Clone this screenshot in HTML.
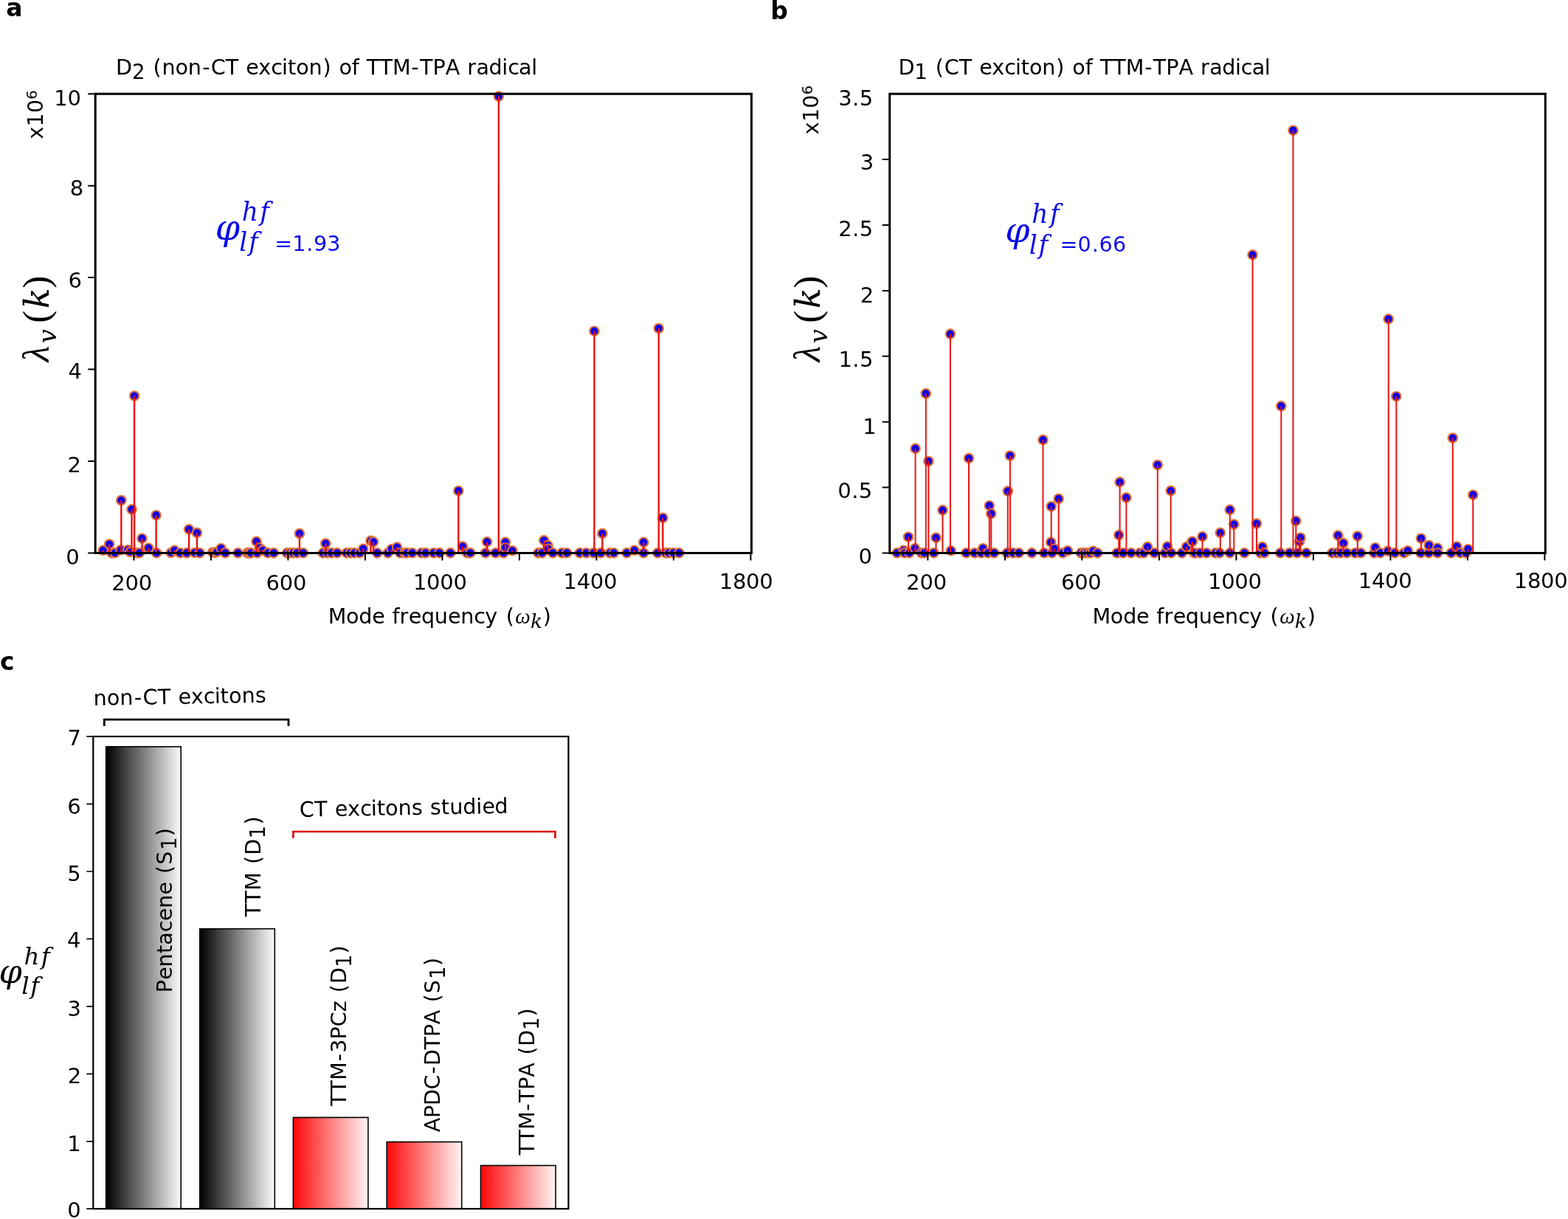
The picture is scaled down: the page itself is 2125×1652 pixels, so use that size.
<!DOCTYPE html>
<html lang="en">
<head>
<meta charset="utf-8">
<title>Figure: vibrational mode reorganisation energies</title>
<style>
html,body{margin:0;padding:0;background:#fff;}
body{width:2125px;height:1652px;overflow:hidden;}
svg{display:block;}
</style>
</head>
<body>
<svg width="2125" height="1652" viewBox="0 0 2125 1652">
<defs>
<clipPath id="ca"><rect x="129" y="110" width="889.5" height="660"/></clipPath>
<clipPath id="cb"><rect x="1205.5" y="110" width="889" height="660"/></clipPath>
<linearGradient id="gk" x1="0" y1="0" x2="1" y2="0"><stop offset="0" stop-color="#000"/><stop offset="1" stop-color="#fbfbfb"/></linearGradient>
<linearGradient id="gr" x1="0" y1="0" x2="1" y2="0"><stop offset="0" stop-color="#ff0808"/><stop offset="1" stop-color="#fff4f4"/></linearGradient>
</defs>
<rect width="2125" height="1652" fill="#fff"/>
<g font-family="'DejaVu Sans','Liberation Sans',sans-serif" font-weight="bold" font-size="33" fill="#000">
<text x="8.15" y="21.56">a</text>
<text x="1044.19" y="25.9">b</text>
<text x="0.11" y="907.76">c</text>
</g>
<!-- panel a -->
<g clip-path="url(#ca)">
<g fill="#0c00ee" stroke="#e2743c" stroke-width="2.2">
<circle cx="139.7" cy="745.8" r="6.2"/>
<circle cx="148.2" cy="737.5" r="6.2"/>
<circle cx="151.5" cy="749.4" r="6.2"/>
<circle cx="155.7" cy="749.4" r="6.2"/>
<circle cx="163.5" cy="745.3" r="6.2"/>
<circle cx="164.3" cy="678" r="6.2"/>
<circle cx="173.3" cy="745.3" r="6.2"/>
<circle cx="176.4" cy="748" r="6.2"/>
<circle cx="178.5" cy="690.4" r="6.2"/>
<circle cx="182.1" cy="536.5" r="6.2"/>
<circle cx="185" cy="749.4" r="6.2"/>
<circle cx="188.8" cy="749.4" r="6.2"/>
<circle cx="192.5" cy="729.7" r="6.2"/>
<circle cx="201.3" cy="742.7" r="6.2"/>
<circle cx="211.6" cy="698.2" r="6.2"/>
<circle cx="212.1" cy="749.4" r="6.2"/>
<circle cx="231.8" cy="749" r="6.2"/>
<circle cx="236.5" cy="745.8" r="6.2"/>
<circle cx="244.2" cy="749.4" r="6.2"/>
<circle cx="253" cy="749.4" r="6.2"/>
<circle cx="256.1" cy="717.3" r="6.2"/>
<circle cx="263.9" cy="749" r="6.2"/>
<circle cx="267" cy="722" r="6.2"/>
<circle cx="270.6" cy="749.4" r="6.2"/>
<circle cx="288.2" cy="748.5" r="6.2"/>
<circle cx="291" cy="749" r="6.2"/>
<circle cx="294" cy="748" r="6.2"/>
<circle cx="299.6" cy="743.2" r="6.2"/>
<circle cx="305.3" cy="749.4" r="6.2"/>
<circle cx="322.4" cy="749.4" r="6.2"/>
<circle cx="335.2" cy="749.4" r="6.2"/>
<circle cx="336.4" cy="749.4" r="6.2"/>
<circle cx="339.3" cy="749.4" r="6.2"/>
<circle cx="340" cy="749.4" r="6.2"/>
<circle cx="347.6" cy="733.9" r="6.2"/>
<circle cx="348.6" cy="749.4" r="6.2"/>
<circle cx="351.7" cy="742.7" r="6.2"/>
<circle cx="355.9" cy="745.8" r="6.2"/>
<circle cx="363.1" cy="749.4" r="6.2"/>
<circle cx="370.9" cy="749.4" r="6.2"/>
<circle cx="389" cy="749.4" r="6.2"/>
<circle cx="393.2" cy="749.4" r="6.2"/>
<circle cx="397.3" cy="749.4" r="6.2"/>
<circle cx="402.5" cy="749.4" r="6.2"/>
<circle cx="405.9" cy="723" r="6.2"/>
<circle cx="410.8" cy="749.4" r="6.2"/>
<circle cx="437.7" cy="749.4" r="6.2"/>
<circle cx="441.3" cy="736.5" r="6.2"/>
<circle cx="443.9" cy="749.4" r="6.2"/>
<circle cx="449.1" cy="749.4" r="6.2"/>
<circle cx="456.8" cy="749.4" r="6.2"/>
<circle cx="469.8" cy="749.4" r="6.2"/>
<circle cx="474.9" cy="749.4" r="6.2"/>
<circle cx="480.1" cy="749.4" r="6.2"/>
<circle cx="487.4" cy="749.4" r="6.2"/>
<circle cx="492.3" cy="743.7" r="6.2"/>
<circle cx="502.4" cy="732.8" r="6.2"/>
<circle cx="506" cy="734.4" r="6.2"/>
<circle cx="511.2" cy="749.4" r="6.2"/>
<circle cx="525.7" cy="749.4" r="6.2"/>
<circle cx="530.8" cy="744.2" r="6.2"/>
<circle cx="538.1" cy="741.6" r="6.2"/>
<circle cx="542.2" cy="749.4" r="6.2"/>
<circle cx="548.5" cy="749.4" r="6.2"/>
<circle cx="551.4" cy="749.4" r="6.2"/>
<circle cx="558.6" cy="749.4" r="6.2"/>
<circle cx="571.1" cy="749.4" r="6.2"/>
<circle cx="576.8" cy="749.4" r="6.2"/>
<circle cx="587.6" cy="749.4" r="6.2"/>
<circle cx="595.4" cy="749.4" r="6.2"/>
<circle cx="610.4" cy="749.4" r="6.2"/>
<circle cx="621.3" cy="665.2" r="6.2"/>
<circle cx="627" cy="740.6" r="6.2"/>
<circle cx="633.2" cy="749.4" r="6.2"/>
<circle cx="637.3" cy="749.4" r="6.2"/>
<circle cx="658" cy="749.4" r="6.2"/>
<circle cx="660.1" cy="734.4" r="6.2"/>
<circle cx="671.5" cy="749.4" r="6.2"/>
<circle cx="675.8" cy="130.6" r="6.2"/>
<circle cx="682.4" cy="749.4" r="6.2"/>
<circle cx="684.9" cy="734.9" r="6.2"/>
<circle cx="684.9" cy="742.2" r="6.2"/>
<circle cx="694.3" cy="746.3" r="6.2"/>
<circle cx="729.5" cy="749.4" r="6.2"/>
<circle cx="734.6" cy="749.4" r="6.2"/>
<circle cx="737.2" cy="732.3" r="6.2"/>
<circle cx="742.4" cy="739.1" r="6.2"/>
<circle cx="742.9" cy="743.7" r="6.2"/>
<circle cx="749.1" cy="749.4" r="6.2"/>
<circle cx="761.4" cy="749.4" r="6.2"/>
<circle cx="768.1" cy="749.4" r="6.2"/>
<circle cx="785.7" cy="749.4" r="6.2"/>
<circle cx="794.5" cy="749.4" r="6.2"/>
<circle cx="804.4" cy="749.4" r="6.2"/>
<circle cx="805.4" cy="448.7" r="6.2"/>
<circle cx="814.2" cy="749.4" r="6.2"/>
<circle cx="816.3" cy="723" r="6.2"/>
<circle cx="826.6" cy="749.4" r="6.2"/>
<circle cx="831.8" cy="749.4" r="6.2"/>
<circle cx="849.4" cy="749.4" r="6.2"/>
<circle cx="859.7" cy="745.8" r="6.2"/>
<circle cx="872.2" cy="734.9" r="6.2"/>
<circle cx="872.2" cy="749.4" r="6.2"/>
<circle cx="891.3" cy="749.4" r="6.2"/>
<circle cx="892.7" cy="445" r="6.2"/>
<circle cx="898.3" cy="701.8" r="6.2"/>
<circle cx="902.2" cy="749.4" r="6.2"/>
<circle cx="906.3" cy="749.4" r="6.2"/>
<circle cx="912.5" cy="749.4" r="6.2"/>
<circle cx="920.3" cy="749.4" r="6.2"/>
</g>
<path d="M139.7 749.5V745.8M148.2 749.5V737.5M163.5 749.5V745.3M164.3 749.5V678M173.3 749.5V745.3M176.4 749.5V748M178.5 749.5V690.4M182.1 749.5V536.5M192.5 749.5V729.7M201.3 749.5V742.7M211.6 749.5V698.2M236.5 749.5V745.8M256.1 749.5V717.3M267 749.5V722M294 749.5V748M299.6 749.5V743.2M347.6 749.5V733.9M351.7 749.5V742.7M355.9 749.5V745.8M405.9 749.5V723M441.3 749.5V736.5M492.3 749.5V743.7M502.4 749.5V732.8M506 749.5V734.4M530.8 749.5V744.2M538.1 749.5V741.6M621.3 749.5V665.2M627 749.5V740.6M660.1 749.5V734.4M675.8 749.5V130.6M684.9 749.5V734.9M684.9 749.5V742.2M694.3 749.5V746.3M737.2 749.5V732.3M742.4 749.5V739.1M742.9 749.5V743.7M805.4 749.5V448.7M816.3 749.5V723M859.7 749.5V745.8M872.2 749.5V734.9M892.7 749.5V445M898.3 749.5V701.8" stroke="#ea1510" stroke-width="2.4" fill="none"/>
</g>
<rect x="129.2" y="127.2" width="889.2" height="622.3" fill="none" stroke="#000" stroke-width="3"/>
<path d="M181.4 749.5v10M285.9 749.5v10M390.4 749.5v10M494.9 749.5v10M599.4 749.5v10M703.9 749.5v10M808.4 749.5v10M912.9 749.5v10M1017.4 749.5v10M129.2 749.5h-10M129.2 625h-10M129.2 500.6h-10M129.2 376.1h-10M129.2 251.7h-10M129.2 127.2h-10" stroke="#000" stroke-width="2" fill="none"/>
<g font-family="'DejaVu Sans','Liberation Sans',sans-serif" font-size="29" fill="#000">
<text x="73.31 91.47" y="143.32">10</text>
<text x="94.83" y="264.82">8</text>
<text x="92.58" y="389.82">6</text>
<text x="92.43" y="513.27">4</text>
<text x="91.56" y="640.02">2</text>
<text x="89.18" y="765.17">0</text>
<text x="151.32 169.48 187.64" y="800.12">200</text>
<text x="360.57 378.73 396.89" y="799.92">600</text>
<text x="559.9 578.06 596.22 614.38" y="798.67">1000</text>
<text x="763.55 781.71 799.87 818.03" y="798.47">1400</text>
<text x="974.8 992.96 1011.12 1029.28" y="798.47">1800</text>
</g>
<text font-family="'DejaVu Sans','Liberation Sans',sans-serif" font-size="28.6" fill="#000" style="white-space:pre"><tspan x="156.99" y="101">D</tspan><tspan x="178.97" y="106.8" font-size="27.7">2</tspan><tspan x="196.53 207.46 219.5 237.55 254.86 274.23 285.85 305.76 323.34 333.36 350.35 367.23 382.09 389.91 401.15 418.46 437.42 449.45 459.48 476.79 486.81 496.84 514.41 531.99 557.35 568.97 586.54 603.74 623.23 633.26 645.43 662.56 680.32 688.15 703.01 720.14" y="101"> (non-CT exciton) of TTM-TPA radical</tspan></text>
<text font-family="'DejaVu Sans','Liberation Sans',sans-serif" font-size="28.6" fill="#000" transform="translate(58.4 187.8) rotate(-90)" style="white-space:pre"><tspan x="-0.82 16.32 34.73" y="0">x10</tspan><tspan x="53.15" y="-8.7" font-size="19.8">6</tspan></text>
<text font-family="'DejaVu Serif','Liberation Serif',serif" font-size="46.5" fill="#000" transform="translate(65.8 490.9) rotate(-90)" font-style="italic" style="white-space:pre"><tspan x="0.36" y="0" font-size="50" font-family="'Liberation Serif','DejaVu Serif',serif" font-style="italic">λ</tspan><tspan x="25.54" y="10.6" font-size="34">v</tspan><tspan x="53.26" y="0" font-size="51" font-family="'Liberation Serif','DejaVu Serif',serif" font-style="normal">(</tspan><tspan x="72.67" y="0">k</tspan><tspan x="100.26" y="0" font-size="51" font-family="'Liberation Serif','DejaVu Serif',serif" font-style="normal">)</tspan></text>
<text font-family="'DejaVu Sans','Liberation Sans',sans-serif" font-size="28.6" fill="#000" style="white-space:pre"><tspan x="444.69 468.91 486.35 504.26 521.38 531.48 541.58 553.84 570.96 588.87 607.05 624.17 642.35 657.33 674.13 685.64" y="844.6">Mode frequency (</tspan><tspan x="698.37" y="844.9" font-size="29" font-family="'Liberation Serif','DejaVu Serif',serif" font-style="italic">ω</tspan><tspan x="719.05" y="850.5" font-size="26.6" font-family="'DejaVu Serif','Liberation Serif',serif" font-style="italic">k</tspan><tspan x="735.85" y="844.6">)</tspan></text>
<text font-family="'DejaVu Serif','Liberation Serif',serif" font-size="34.5" fill="#0a0ae6" font-style="italic" style="white-space:pre"><tspan x="291.8" y="324.78" font-size="47.7">φ</tspan><tspan x="327.74 352.17" y="298.66">hf</tspan><tspan x="324.27 336.92" y="340.31">lf</tspan><tspan x="362.23 372.29 396.16 415.15 424.97 443.29" y="340.2" font-size="28.6" font-family="'DejaVu Sans','Liberation Sans',sans-serif" font-style="normal"> =1.93</tspan></text>
<!-- panel b -->
<g clip-path="url(#cb)">
<g fill="#0c00ee" stroke="#e2743c" stroke-width="2.2">
<circle cx="1215.7" cy="749.4" r="6.2"/>
<circle cx="1224.5" cy="745.8" r="6.2"/>
<circle cx="1226" cy="749.4" r="6.2"/>
<circle cx="1231" cy="727.7" r="6.2"/>
<circle cx="1232.3" cy="749.4" r="6.2"/>
<circle cx="1240" cy="743.2" r="6.2"/>
<circle cx="1240.6" cy="607.8" r="6.2"/>
<circle cx="1248.8" cy="749.4" r="6.2"/>
<circle cx="1252.5" cy="749.4" r="6.2"/>
<circle cx="1254.8" cy="533.3" r="6.2"/>
<circle cx="1258.4" cy="625" r="6.2"/>
<circle cx="1265.4" cy="749.4" r="6.2"/>
<circle cx="1268.5" cy="728.7" r="6.2"/>
<circle cx="1277.5" cy="691.4" r="6.2"/>
<circle cx="1287.9" cy="452.6" r="6.2"/>
<circle cx="1288.7" cy="746.3" r="6.2"/>
<circle cx="1309.4" cy="749.4" r="6.2"/>
<circle cx="1313" cy="621" r="6.2"/>
<circle cx="1320.8" cy="749.4" r="6.2"/>
<circle cx="1329.6" cy="749.4" r="6.2"/>
<circle cx="1332.2" cy="743.2" r="6.2"/>
<circle cx="1338.9" cy="749.4" r="6.2"/>
<circle cx="1340.8" cy="685.2" r="6.2"/>
<circle cx="1343.3" cy="696.1" r="6.2"/>
<circle cx="1347.2" cy="749.4" r="6.2"/>
<circle cx="1364.8" cy="749.4" r="6.2"/>
<circle cx="1365.8" cy="665.6" r="6.2"/>
<circle cx="1368.9" cy="617.5" r="6.2"/>
<circle cx="1373.1" cy="749.4" r="6.2"/>
<circle cx="1380.8" cy="749.4" r="6.2"/>
<circle cx="1398.4" cy="749.4" r="6.2"/>
<circle cx="1413.5" cy="596.1" r="6.2"/>
<circle cx="1415" cy="749.4" r="6.2"/>
<circle cx="1424.2" cy="734.9" r="6.2"/>
<circle cx="1424.7" cy="686.3" r="6.2"/>
<circle cx="1425.7" cy="749.4" r="6.2"/>
<circle cx="1428.8" cy="743.7" r="6.2"/>
<circle cx="1434.7" cy="675.9" r="6.2"/>
<circle cx="1440.2" cy="749.4" r="6.2"/>
<circle cx="1446.9" cy="746.3" r="6.2"/>
<circle cx="1465" cy="749.4" r="6.2"/>
<circle cx="1469.2" cy="749.4" r="6.2"/>
<circle cx="1473.3" cy="749.4" r="6.2"/>
<circle cx="1477.5" cy="749.4" r="6.2"/>
<circle cx="1481.6" cy="746.8" r="6.2"/>
<circle cx="1487.3" cy="749.4" r="6.2"/>
<circle cx="1513.7" cy="749.4" r="6.2"/>
<circle cx="1516.3" cy="725.1" r="6.2"/>
<circle cx="1517.6" cy="653.3" r="6.2"/>
<circle cx="1522" cy="749.4" r="6.2"/>
<circle cx="1526.4" cy="674.4" r="6.2"/>
<circle cx="1532.9" cy="749.4" r="6.2"/>
<circle cx="1544.8" cy="749.4" r="6.2"/>
<circle cx="1549.9" cy="749.4" r="6.2"/>
<circle cx="1555.1" cy="741.1" r="6.2"/>
<circle cx="1564.4" cy="749.4" r="6.2"/>
<circle cx="1568.8" cy="630" r="6.2"/>
<circle cx="1578.9" cy="749.4" r="6.2"/>
<circle cx="1582" cy="740.6" r="6.2"/>
<circle cx="1586.7" cy="665" r="6.2"/>
<circle cx="1587.2" cy="749.4" r="6.2"/>
<circle cx="1601.7" cy="749.4" r="6.2"/>
<circle cx="1607.9" cy="741.1" r="6.2"/>
<circle cx="1615.2" cy="734.4" r="6.2"/>
<circle cx="1616" cy="733.9" r="6.2"/>
<circle cx="1618.1" cy="749.4" r="6.2"/>
<circle cx="1619.3" cy="749.4" r="6.2"/>
<circle cx="1626.4" cy="749.4" r="6.2"/>
<circle cx="1629.5" cy="727.2" r="6.2"/>
<circle cx="1635.2" cy="749.4" r="6.2"/>
<circle cx="1647.1" cy="749.4" r="6.2"/>
<circle cx="1652.8" cy="749.4" r="6.2"/>
<circle cx="1653.8" cy="722" r="6.2"/>
<circle cx="1666.8" cy="690.9" r="6.2"/>
<circle cx="1666.8" cy="749.4" r="6.2"/>
<circle cx="1672.3" cy="710.6" r="6.2"/>
<circle cx="1686.4" cy="749.4" r="6.2"/>
<circle cx="1697.5" cy="345.4" r="6.2"/>
<circle cx="1703" cy="709.6" r="6.2"/>
<circle cx="1708.2" cy="749.4" r="6.2"/>
<circle cx="1710.8" cy="741.1" r="6.2"/>
<circle cx="1713.4" cy="749.4" r="6.2"/>
<circle cx="1735.1" cy="749.4" r="6.2"/>
<circle cx="1736.3" cy="550.4" r="6.2"/>
<circle cx="1747.5" cy="749.4" r="6.2"/>
<circle cx="1752.5" cy="176.7" r="6.2"/>
<circle cx="1756.3" cy="705.9" r="6.2"/>
<circle cx="1757.9" cy="749.4" r="6.2"/>
<circle cx="1761" cy="733.9" r="6.2"/>
<circle cx="1762.5" cy="728.7" r="6.2"/>
<circle cx="1770.3" cy="749.4" r="6.2"/>
<circle cx="1805.5" cy="749.4" r="6.2"/>
<circle cx="1811.7" cy="749.4" r="6.2"/>
<circle cx="1813.3" cy="725.6" r="6.2"/>
<circle cx="1816.9" cy="749.4" r="6.2"/>
<circle cx="1820.5" cy="736" r="6.2"/>
<circle cx="1825.2" cy="749.4" r="6.2"/>
<circle cx="1836.4" cy="749.4" r="6.2"/>
<circle cx="1839.8" cy="726.6" r="6.2"/>
<circle cx="1844.2" cy="749.4" r="6.2"/>
<circle cx="1862.3" cy="749.4" r="6.2"/>
<circle cx="1863.8" cy="742.2" r="6.2"/>
<circle cx="1870.6" cy="749.4" r="6.2"/>
<circle cx="1880.9" cy="746.8" r="6.2"/>
<circle cx="1881.7" cy="432.3" r="6.2"/>
<circle cx="1890.2" cy="749.4" r="6.2"/>
<circle cx="1892.3" cy="537.2" r="6.2"/>
<circle cx="1902.6" cy="749.4" r="6.2"/>
<circle cx="1907.8" cy="746.3" r="6.2"/>
<circle cx="1925.4" cy="749.4" r="6.2"/>
<circle cx="1925.9" cy="729.7" r="6.2"/>
<circle cx="1936.3" cy="749.4" r="6.2"/>
<circle cx="1936.6" cy="739.1" r="6.2"/>
<circle cx="1948.2" cy="742.7" r="6.2"/>
<circle cx="1948.2" cy="749.4" r="6.2"/>
<circle cx="1966.8" cy="749.4" r="6.2"/>
<circle cx="1968.8" cy="593.5" r="6.2"/>
<circle cx="1974.4" cy="740.6" r="6.2"/>
<circle cx="1979.3" cy="749.4" r="6.2"/>
<circle cx="1986.5" cy="749.4" r="6.2"/>
<circle cx="1989.6" cy="744.2" r="6.2"/>
<circle cx="1996.3" cy="670.7" r="6.2"/>
</g>
<path d="M1224.5 749.5V745.8M1231 749.5V727.7M1240 749.5V743.2M1240.6 749.5V607.8M1254.8 749.5V533.3M1258.4 749.5V625M1268.5 749.5V728.7M1277.5 749.5V691.4M1287.9 749.5V452.6M1288.7 749.5V746.3M1313 749.5V621M1332.2 749.5V743.2M1340.8 749.5V685.2M1343.3 749.5V696.1M1365.8 749.5V665.6M1368.9 749.5V617.5M1413.5 749.5V596.1M1424.2 749.5V734.9M1424.7 749.5V686.3M1428.8 749.5V743.7M1434.7 749.5V675.9M1446.9 749.5V746.3M1481.6 749.5V746.8M1516.3 749.5V725.1M1517.6 749.5V653.3M1526.4 749.5V674.4M1555.1 749.5V741.1M1568.8 749.5V630M1582 749.5V740.6M1586.7 749.5V665M1607.9 749.5V741.1M1615.2 749.5V734.4M1616 749.5V733.9M1629.5 749.5V727.2M1653.8 749.5V722M1666.8 749.5V690.9M1672.3 749.5V710.6M1697.5 749.5V345.4M1703 749.5V709.6M1710.8 749.5V741.1M1736.3 749.5V550.4M1752.5 749.5V176.7M1756.3 749.5V705.9M1761 749.5V733.9M1762.5 749.5V728.7M1813.3 749.5V725.6M1820.5 749.5V736M1839.8 749.5V726.6M1863.8 749.5V742.2M1880.9 749.5V746.8M1881.7 749.5V432.3M1892.3 749.5V537.2M1907.8 749.5V746.3M1925.9 749.5V729.7M1936.6 749.5V739.1M1948.2 749.5V742.7M1968.8 749.5V593.5M1974.4 749.5V740.6M1989.6 749.5V744.2M1996.3 749.5V670.7" stroke="#ea1510" stroke-width="2" fill="none"/>
</g>
<rect x="1205.7" y="127.2" width="888.6" height="622.3" fill="none" stroke="#000" stroke-width="3"/>
<path d="M1257.4 749.5v10M1361.9 749.5v10M1466.4 749.5v10M1570.9 749.5v10M1675.4 749.5v10M1779.9 749.5v10M1884.4 749.5v10M1988.9 749.5v10M2093.4 749.5v10M1205.7 749.5h-10M1205.7 660.6h-10M1205.7 571.7h-10M1205.7 482.8h-10M1205.7 393.9h-10M1205.7 305h-10M1205.7 216.1h-10" stroke="#000" stroke-width="2" fill="none"/>
<g font-family="'DejaVu Sans','Liberation Sans',sans-serif" font-size="29" fill="#000">
<text x="1136.21 1155.03 1164.76" y="143.32">3.5</text>
<text x="1165.63" y="230.12">3</text>
<text x="1136.25 1155.07 1164.81" y="319.52">2.5</text>
<text x="1165.86" y="409.67">2</text>
<text x="1136.42 1155.24 1164.97" y="496.87">1.5</text>
<text x="1169.37" y="587.52">1</text>
<text x="1135.31 1154.13 1163.86" y="675.02">0.5</text>
<text x="1163.38" y="763.62">0</text>
<text x="1228.37 1246.53 1264.69" y="799.42">200</text>
<text x="1437.97 1456.13 1474.29" y="798.82">600</text>
<text x="1637 1655.16 1673.32 1691.48" y="797.92">1000</text>
<text x="1840.75 1858.91 1877.07 1895.23" y="797.47">1400</text>
<text x="2051.75 2069.91 2088.07 2106.23" y="796.82">1800</text>
</g>
<text font-family="'DejaVu Sans','Liberation Sans',sans-serif" font-size="28.6" fill="#000" style="white-space:pre"><tspan x="1217.39" y="101">D</tspan><tspan x="1239.35" y="106.8" font-size="27.7">1</tspan><tspan x="1256.9 1267.83 1279.86 1299.76 1317.32 1327.34 1344.31 1361.18 1376.02 1383.84 1395.07 1412.37 1431.31 1443.34 1453.36 1470.66 1480.68 1490.7 1508.26 1525.82 1551.16 1562.78 1580.34 1597.52 1617 1627.02 1639.18 1656.3 1674.05 1681.87 1696.72 1713.84" y="101"> (CT exciton) of TTM-TPA radical</tspan></text>
<text font-family="'DejaVu Sans','Liberation Sans',sans-serif" font-size="28.6" fill="#000" transform="translate(1109.3 181.4) rotate(-90)" style="white-space:pre"><tspan x="-0.82 16.32 34.73" y="0">x10</tspan><tspan x="53.15" y="-8.7" font-size="19.8">6</tspan></text>
<text font-family="'DejaVu Serif','Liberation Serif',serif" font-size="46.5" fill="#000" transform="translate(1110.8 490.9) rotate(-90)" font-style="italic" style="white-space:pre"><tspan x="0.36" y="0" font-size="50" font-family="'Liberation Serif','DejaVu Serif',serif" font-style="italic">λ</tspan><tspan x="25.54" y="10.6" font-size="34">v</tspan><tspan x="53.26" y="0" font-size="51" font-family="'Liberation Serif','DejaVu Serif',serif" font-style="normal">(</tspan><tspan x="72.67" y="0">k</tspan><tspan x="100.26" y="0" font-size="51" font-family="'Liberation Serif','DejaVu Serif',serif" font-style="normal">)</tspan></text>
<text font-family="'DejaVu Sans','Liberation Sans',sans-serif" font-size="28.6" fill="#000" style="white-space:pre"><tspan x="1480.49 1504.71 1522.15 1540.06 1557.18 1567.28 1577.38 1589.64 1606.76 1624.67 1642.85 1659.97 1678.15 1693.13 1709.93 1721.44" y="844.7">Mode frequency (</tspan><tspan x="1734.17" y="845" font-size="29" font-family="'Liberation Serif','DejaVu Serif',serif" font-style="italic">ω</tspan><tspan x="1754.85" y="850.6" font-size="26.6" font-family="'DejaVu Serif','Liberation Serif',serif" font-style="italic">k</tspan><tspan x="1771.65" y="844.7">)</tspan></text>
<text font-family="'DejaVu Serif','Liberation Serif',serif" font-size="34.5" fill="#0a0ae6" font-style="italic" style="white-space:pre"><tspan x="1362.27" y="328" font-size="47.5">φ</tspan><tspan x="1398.29 1422.97" y="302.24">hf</tspan><tspan x="1394.82 1407.57" y="344.06">lf</tspan><tspan x="1426.53 1436.59 1460.56 1479.63 1489.5 1507.91" y="341.4" font-size="28.6" font-family="'DejaVu Sans','Liberation Sans',sans-serif" font-style="normal"> =0.66</tspan></text>
<!-- panel c -->
<rect x="143.7" y="1011.9" width="101.5" height="626.3" fill="url(#gk)" stroke="#000" stroke-width="1.6"/>
<rect x="270.8" y="1258.7" width="101.5" height="379.5" fill="url(#gk)" stroke="#000" stroke-width="1.6"/>
<rect x="397.4" y="1514.4" width="101.5" height="123.8" fill="url(#gr)" stroke="#000" stroke-width="1.6"/>
<rect x="524.2" y="1547.5" width="101.5" height="90.7" fill="url(#gr)" stroke="#000" stroke-width="1.6"/>
<rect x="651.5" y="1579.5" width="101.5" height="58.7" fill="url(#gr)" stroke="#000" stroke-width="1.6"/>
<rect x="126.3" y="998.1" width="644.1" height="640.1" fill="none" stroke="#000" stroke-width="2.2"/>
<path d="M126.3 1638.2h-9M126.3 1546.8h-9M126.3 1455.3h-9M126.3 1363.9h-9M126.3 1272.4h-9M126.3 1181h-9M126.3 1089.6h-9M126.3 998.1h-9" stroke="#000" stroke-width="1.7" fill="none"/>
<g font-family="'DejaVu Sans','Liberation Sans',sans-serif" font-size="29" fill="#000">
<text x="91.47" y="1010.27">7</text>
<text x="91.23" y="1103.07">6</text>
<text x="91.37" y="1193.92">5</text>
<text x="90.88" y="1284.27">4</text>
<text x="91.48" y="1376.52">3</text>
<text x="91.81" y="1468.22">2</text>
<text x="91.32" y="1559.52">1</text>
<text x="91.13" y="1650.02">0</text>
</g>
<path d="M141.3 984V975.2H391V984" stroke="#000" stroke-width="2.8" fill="none"/>
<path d="M397.4 1136V1127H752.4V1136" stroke="#e00c0c" stroke-width="2.7" fill="none"/>
<text font-family="'DejaVu Sans','Liberation Sans',sans-serif" font-size="28.6" fill="#000" transform="translate(129.4 955.9) rotate(-1.02)" style="white-space:pre"><tspan x="-2.6 15.63 33.1 52.67 64.4 84.51 102.26 112.38 129.54 146.58 161.58 169.48 180.83 198.31 216.53" y="0">non-CT excitons</tspan></text>
<text font-family="'DejaVu Sans','Liberation Sans',sans-serif" font-size="28.6" fill="#000" transform="translate(407.7 1106.9) rotate(-1.01)" style="white-space:pre"><tspan x="-1.61 18.48 36.2 46.31 63.44 80.46 95.45 103.34 114.67 132.13 150.33 165.31 175.42 190.41 201.74 219.94 237.86 245.75 262.89" y="0">CT excitons studied</tspan></text>
<text font-family="'DejaVu Sans','Liberation Sans',sans-serif" font-size="28.6" fill="#000" transform="translate(232.8 1342.4) rotate(-90)" style="white-space:pre"><tspan x="-2.81 14.69 31.97 50.32 61.75 79.18 94.29 111.57 129.93 147.21 158.33 170.58" y="0">Pentacene (S</tspan><tspan x="190.41" y="6.6" font-size="27.7">1</tspan><tspan x="209.2" y="0">)</tspan></text>
<text font-family="'DejaVu Sans','Liberation Sans',sans-serif" font-size="28.6" fill="#000" transform="translate(352.8 1242.5) rotate(-90)" style="white-space:pre"><tspan x="0.08 17.97 35.86 60.33 71.47 83.72" y="0">TTM (D</tspan><tspan x="106.09" y="6.6" font-size="27.7">1</tspan><tspan x="124.9" y="0">)</tspan></text>
<text font-family="'DejaVu Sans','Liberation Sans',sans-serif" font-size="28.6" fill="#000" transform="translate(469.2 1499.2) rotate(-90)" style="white-space:pre"><tspan x="0.08 17.73 35.37 60.84 72.51 90.71 107.98 127.98 143.02 154 166.09" y="0">TTM-3PCz (D</tspan><tspan x="188.15" y="6.6" font-size="27.7">1</tspan><tspan x="206.7" y="0">)</tspan></text>
<text font-family="'DejaVu Sans','Liberation Sans',sans-serif" font-size="28.6" fill="#000" transform="translate(596 1534) rotate(-90)" style="white-space:pre"><tspan x="-0.22 18.98 35.93 57.57 78.5 89.95 111.6 128.91 145.85 165.06 175.84 187.7" y="0">APDC-DTPA (S</tspan><tspan x="206.9" y="6.6" font-size="27.7">1</tspan><tspan x="225.1" y="0">)</tspan></text>
<text font-family="'DejaVu Sans','Liberation Sans',sans-serif" font-size="28.6" fill="#000" transform="translate(723.6 1565.7) rotate(-90)" style="white-space:pre"><tspan x="0.08 17.49 34.9 60.02 71.53 88.94 105.97 125.28 136.11 148.04" y="0">TTM-TPA (D</tspan><tspan x="169.8" y="6.6" font-size="27.7">1</tspan><tspan x="188.1" y="0">)</tspan></text>
<text font-family="'DejaVu Serif','Liberation Serif',serif" font-size="32.5" fill="#000" font-style="italic" style="white-space:pre"><tspan x="-1.5" y="1331.76" font-size="44.7">φ</tspan><tspan x="32.44 55.83" y="1307.36">hf</tspan><tspan x="29.29 41.28" y="1346.73">lf</tspan></text>
</svg>
</body>
</html>
